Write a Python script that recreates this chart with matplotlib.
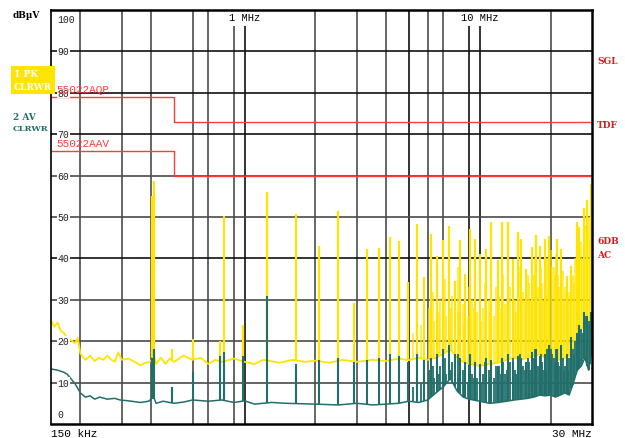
import numpy as np
import matplotlib.pyplot as plt

# peak detector noise floor (MHz, dBuV)
pk_floor_f = [0.150, 0.155, 0.160, 0.165, 0.170, 0.175, 0.180, 0.190, 0.195, 0.200,
              0.210, 0.220, 0.230, 0.240, 0.250, 0.260, 0.270, 0.280, 0.290, 0.300,
              0.320, 0.340, 0.360, 0.380, 0.400, 0.410, 0.420, 0.440, 0.460, 0.480,
              0.500, 0.550, 0.600, 0.650, 0.700, 0.750, 0.800, 0.900, 1.0, 1.1,
              1.2, 1.4, 1.6, 1.8, 2.0, 2.3, 2.6, 3.0, 3.5, 4.0,
              4.5, 5.0, 5.5, 6.0, 6.5, 7.0, 7.5, 8.0, 8.5, 9.0,
              10.0, 11.0, 12.0, 13.0, 14.0, 15.0, 16.0, 17.0, 18.0, 19.0,
              20.0, 22.0, 24.0, 25.0, 26.0, 27.0, 28.0, 29.0, 30.0]
pk_floor_db = [25.0, 23.5, 24.5, 22.5, 22.0, 21.0, 20.5, 19.5, 20.8, 17.0,
               15.5, 16.5, 15.2, 16.0, 15.5, 16.5, 15.6, 15.0, 17.3, 15.5,
               15.8, 15.0, 14.2, 14.8, 15.2, 17.0, 14.5, 16.0, 14.5, 15.8,
               15.0, 16.5, 15.5, 16.0, 14.5, 15.5, 15.0, 15.8, 15.0, 14.5,
               15.5, 14.8, 15.5, 15.0, 15.3, 14.8, 15.5, 15.0, 15.5, 15.2,
               15.8, 15.4, 16.0, 15.5, 16.0, 17.0, 18.0, 16.0, 15.0, 14.5,
               14.0, 14.5, 14.8, 15.5, 16.0, 15.5, 16.0, 16.5, 16.8, 16.0,
               15.8, 15.5, 16.5, 18.0, 20.0, 23.0, 24.0, 22.0, 27.0]

# average detector noise floor
av_floor_f = [0.150, 0.160, 0.170, 0.176, 0.185, 0.190, 0.200, 0.210, 0.220, 0.230,
              0.242, 0.260, 0.280, 0.295, 0.320, 0.360, 0.390, 0.410, 0.420, 0.450,
              0.500, 0.550, 0.600, 0.700, 0.800, 0.900, 1.0, 1.1, 1.3, 1.5,
              2.0, 2.5, 3.0, 3.5, 4.0, 4.5, 5.0, 5.5, 6.0, 6.5,
              7.0, 7.5, 8.0, 8.5, 9.0, 10.0, 11.0, 12.0, 13.0, 14.0,
              15.0, 16.0, 17.0, 18.0, 19.0, 20.0, 21.0, 22.0, 23.0, 24.0,
              25.0, 26.0, 27.0, 28.0, 29.0, 30.0]
av_floor_db = [13.3, 13.0, 12.5, 12.0, 10.5, 9.7, 7.5, 6.5, 6.8, 6.0,
               6.5, 6.0, 6.2, 5.8, 5.6, 5.2, 5.5, 6.5, 5.0, 5.5,
               5.0, 5.3, 5.8, 5.5, 5.8, 5.2, 5.6, 4.8, 5.2, 5.0,
               4.8, 4.6, 5.0, 4.6, 4.8, 5.0, 5.5, 5.2, 5.8, 7.5,
               9.0, 11.0, 8.0, 6.5, 6.0, 5.5, 5.0, 5.2, 5.5, 5.8,
               6.0, 6.2, 6.5, 7.0, 6.8, 7.0, 6.5, 7.0, 7.5, 7.0,
               10.0, 13.0, 14.0, 16.0, 13.0, 18.0]

# harmonics: frequency, peak level, average level
spike_f = [0.405, 0.413, 0.49, 0.60, 0.786, 0.815, 0.987, 1.25, 1.66, 2.07,
           2.49, 2.92, 3.31, 3.72, 4.14, 4.55, 4.96, 5.40, 5.80, 6.21,
           6.57, 7.0, 7.43, 7.86, 8.25, 8.67, 9.1, 9.5, 9.97, 10.65,
           11.18, 11.9, 12.4, 13.2, 13.8, 14.5, 15.0, 15.7, 16.7, 17.4,
           17.96, 18.9, 19.6, 21.3, 22.2, 23.5, 24.5, 25.9, 26.5, 27.8,
           28.7, 29.8]
spike_pk = [55.0, 58.8, 18.0, 20.5, 20.0, 50.2, 24.0, 56.1, 50.7, 42.9,
            51.5, 29.2, 42.3, 42.4, 45.1, 44.3, 34.2, 48.3, 35.4, 45.9,
            40.7, 44.4, 47.9, 34.6, 44.4, 36.2, 47.1, 44.8, 41.1, 42.3,
            48.7, 39.5, 48.7, 48.9, 39.9, 46.3, 44.7, 37.4, 42.7, 45.7,
            43.1, 44.7, 45.5, 44.7, 42.3, 35.8, 38.2, 48.7, 47.5, 52.1,
            54.0, 58.0]
spike_av = [16.0, 18.0, 9.0, 12.5, 16.5, 17.4, 16.5, 31.0, 14.5, 15.5,
            16.0, 15.0, 15.5, 16.0, 17.0, 16.5, 15.0, 17.0, 15.5, 16.0,
            17.0, 18.0, 19.0, 17.0, 16.0, 15.0, 17.0, 15.0, 14.5, 16.0,
            15.5, 14.0, 16.0, 17.0, 15.0, 16.5, 16.0, 15.0, 17.5, 18.0,
            16.5, 17.0, 19.0, 18.0, 19.0, 17.0, 21.0, 22.0, 24.0, 27.0,
            26.0, 27.0]

# smaller peak-detector lines between the harmonics
minor_f = [5.2, 5.6, 6.05, 6.3, 6.4, 6.7, 6.8, 7.1, 7.2, 7.55,
           7.65, 8.05, 8.1, 8.45, 8.55, 8.9, 9.0, 9.3, 9.4, 9.75,
           10.1, 10.3, 10.5, 10.9, 11.0, 11.5, 11.7, 12.1, 12.25, 12.6,
           12.8, 13.0, 13.5, 13.9, 14.1, 14.3, 14.8, 15.3, 15.5, 16.0,
           16.2, 16.4, 17.0, 17.2, 17.7, 18.2, 18.4, 18.6, 19.2, 19.4,
           20.0, 20.3, 20.6, 20.8, 21.0, 21.6, 21.8, 22.5, 22.8, 23.0,
           23.8, 24.0, 24.8, 25.2, 25.5, 26.2, 27.0, 27.2, 28.2, 29.0,
           29.3]
minor_pk = [22.0, 24.0, 28.0, 32.0, 25.0, 27.0, 30.0, 35.0, 26.0, 28.0,
            31.0, 27.0, 38.0, 29.0, 24.0, 26.0, 33.0, 30.0, 28.0, 27.0,
            25.0, 28.0, 34.0, 30.0, 27.0, 26.0, 33.0, 31.0, 28.0, 36.0,
            29.0, 30.0, 33.0, 35.0, 30.0, 27.0, 38.0, 32.0, 30.0, 36.0,
            34.0, 30.0, 36.0, 40.0, 33.0, 38.0, 34.0, 30.0, 31.0, 40.0,
            42.0, 38.0, 38.0, 36.0, 41.0, 36.0, 33.0, 37.0, 30.0, 33.0,
            30.0, 32.0, 36.0, 34.0, 40.0, 42.0, 44.0, 40.0, 48.0, 50.0,
            45.0]
minor_av = [9.0, 10.0, 13.0, 14.0, 11.0, 12.0, 14.0, 16.0, 12.0, 13.0,
            15.0, 11.0, 17.0, 13.0, 10.0, 10.0, 14.0, 12.0, 11.0, 11.0,
            10.0, 12.0, 15.0, 13.0, 11.0, 11.0, 14.0, 14.0, 12.0, 15.0,
            12.0, 13.0, 15.0, 16.0, 13.0, 12.0, 17.0, 14.0, 13.0, 16.0,
            15.0, 13.0, 16.0, 18.0, 14.0, 17.0, 15.0, 13.0, 13.0, 18.0,
            18.0, 17.0, 16.0, 15.0, 18.0, 15.0, 14.0, 16.0, 13.0, 14.0,
            13.0, 16.0, 18.0, 17.0, 20.0, 22.0, 23.0, 22.0, 26.0, 25.0,
            24.0]

# EN 55022 class A limits
qp_f = [0.15, 0.5, 0.5, 30.0]
qp_db = [79, 79, 73, 73]
av_lim_f = [0.15, 0.5, 0.5, 30.0]
av_lim_db = [66, 66, 60, 60]

yellow = '#ffe400'
teal = '#216f6b'
red = '#ff3b3b'
mono = 'Liberation Mono'

fig = plt.figure(figsize=(6.25, 4.39), dpi=100)
ax = fig.add_axes([51 / 625, 14 / 439, 541 / 625, 414 / 439])
ax.set_xscale('log')
ax.set_xlim(0.15, 30)
ax.set_ylim(0, 100)
ax.set_xticks([])
ax.set_yticks([])
ax.minorticks_off()

# grid
for f in [0.2, 0.3, 0.4, 0.6, 0.7, 0.9, 2, 3, 4, 6, 7, 20]:
    ax.axvline(f, color='#5a5a5a', lw=1.3, zorder=1)
for f in [1, 5, 9, 10]:
    ax.axvline(f, color='#111111', lw=1.2, zorder=1)
for v in [10, 20, 30, 50, 60]:
    ax.axhline(v, color='#4a4a4a', lw=1.2, zorder=1)
for v in [40, 70, 80, 90]:
    ax.axhline(v, color='#111111', lw=1.2, zorder=1)

# limit lines
ax.plot(qp_f, qp_db, color=red, lw=1.0, zorder=2)
ax.plot(av_lim_f, av_lim_db, color=red, lw=1.0, zorder=2)

# peak trace
pk_base = np.interp(np.log10(spike_f), np.log10(pk_floor_f), pk_floor_db)
mn_base = np.interp(np.log10(minor_f), np.log10(pk_floor_f), pk_floor_db)
ax.plot(pk_floor_f, pk_floor_db, color=yellow, lw=1.3, zorder=3)
ax.vlines(minor_f, mn_base, minor_pk, color=yellow, lw=1.3, alpha=0.75, zorder=3)
ax.vlines(spike_f, pk_base, spike_pk, color=yellow, lw=1.6, zorder=3)

# average trace
av_base = np.interp(np.log10(spike_f), np.log10(av_floor_f), av_floor_db)
mav_base = np.interp(np.log10(minor_f), np.log10(av_floor_f), av_floor_db)
ax.plot(av_floor_f, av_floor_db, color=teal, lw=1.1, zorder=4)
ax.vlines(minor_f, mav_base, minor_av, color=teal, lw=1.3, zorder=4)
ax.vlines(spike_f, av_base, spike_av, color=teal, lw=1.5, zorder=4)

for side in ['left', 'right', 'top', 'bottom']:
    ax.spines[side].set_color('black')
    ax.spines[side].set_zorder(6)
ax.spines['top'].set_linewidth(1.8)
ax.spines['bottom'].set_linewidth(1.8)
ax.spines['left'].set_linewidth(1.2)
ax.spines['right'].set_linewidth(1.8)

# y labels inside the plot
box = dict(facecolor='white', edgecolor='none', pad=0.5)
for v in range(0, 101, 10):
    ypos = {100: 97.8, 0: 2.3}.get(v, v)
    ax.text(0.012, ypos, str(v), transform=ax.get_yaxis_transform(), ha='left',
            va='center', fontsize=7, family=mono, color='#222222', bbox=box, zorder=5)

# frequency labels at top, blanking the grid behind them
ax.text(1.0, 99.6, '1 MHz', ha='center', va='top', fontsize=7.5, family=mono,
        bbox=dict(facecolor='white', edgecolor='none', pad=3), zorder=5)
ax.text(10.0, 99.6, '10 MHz', ha='center', va='top', fontsize=7.5, family=mono,
        bbox=dict(facecolor='white', edgecolor='none', pad=3), zorder=5)

# limit line names
ax.text(0.158, 81.0, '55022AQP', color=red, fontsize=8, family=mono, va='center', zorder=5)
ax.text(0.158, 67.8, '55022AAV', color=red, fontsize=8, family=mono, va='center', zorder=5)

# labels outside the plot
fig.text(13 / 625, 1 - 16 / 439, 'dBµV', fontsize=6.5, family='DejaVu Serif',
         weight='bold', va='center')
fig.text(14 / 625, 1 - 81 / 439, '1 PK\nCLRWR', fontsize=6.5, family='DejaVu Serif',
         weight='bold', color='white', va='center', linespacing=1.6,
         bbox=dict(facecolor=yellow, edgecolor='none', pad=2))
fig.text(13 / 625, 1 - 117 / 439, '2 AV', fontsize=6.5, family='DejaVu Serif',
         weight='bold', color=teal, va='center')
fig.text(13 / 625, 1 - 129 / 439, 'CLRWR', fontsize=6, family='DejaVu Serif',
         weight='bold', color=teal, va='center')

for txt, ypx in [('SGL', 61), ('TDF', 126), ('6DB', 242), ('AC', 256)]:
    fig.text(597 / 625, 1 - ypx / 439, txt, fontsize=6.5, family='DejaVu Serif',
             weight='bold', color='#d42020', va='center')

fig.text(51 / 625, 1 - 434 / 439, '150 kHz', fontsize=8, family=mono, va='center')
fig.text(592 / 625, 1 - 434 / 439, '30 MHz', fontsize=8, family=mono, va='center', ha='right')

fig.savefig('out.png', dpi=100)
